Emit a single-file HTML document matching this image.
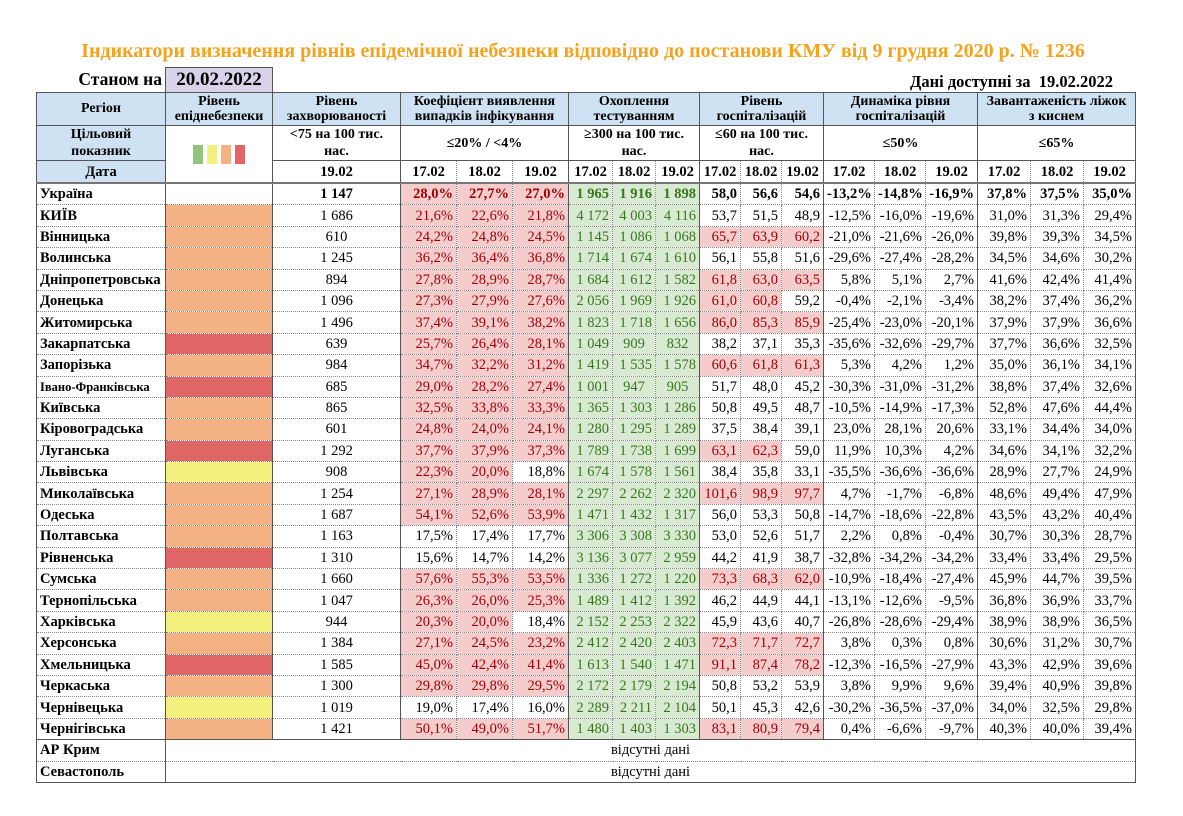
<!DOCTYPE html>
<html><head><meta charset="utf-8"><style>
body{margin:0;width:1183px;height:816px;background:#fff;font-family:"Liberation Serif","DejaVu Serif",serif;position:relative;overflow:hidden}
.title{position:absolute;left:0;width:1166px;top:40px;text-align:center;color:#f5a21d;font-weight:bold;font-size:20px}
.st{position:absolute;left:36px;width:126px;top:69px;text-align:right;font-weight:bold;font-size:17.5px}
.dt{position:absolute;left:165px;top:67px;width:106px;height:24px;background:#d9d2e9;border:1px solid #555;font-weight:bold;font-size:19px;text-align:center;line-height:24px}
.da{position:absolute;right:70px;top:72px;font-weight:bold;font-size:16.5px}
table{position:absolute;left:36px;top:92px;border-collapse:collapse;table-layout:fixed;width:1099px;font-size:14.5px}
td{padding:0 3px;border:1px dotted #888;white-space:nowrap;overflow:hidden;text-align:right;height:20.4px;line-height:20px}
.h td{background:#cfe2f3;font-weight:bold;text-align:center;line-height:15.5px;border:1px solid #555;height:32px;font-size:14px}
.h2 td{text-align:center;font-weight:bold;line-height:17px;height:34px;border:1px solid #555;font-size:14px}
.h3 td{text-align:center;font-weight:bold;border-bottom:2px solid #777;height:21px}
.b{background:#cfe2f3!important}
td.r{text-align:left;font-weight:bold;border-left:1px solid #555;border-right:1px solid #555}
td.m{text-align:center;border-right:1px solid #555}
td.L{border-right:1px solid #555}
td.O{background:#f4b183}td.R{background:#e06666}td.Y{background:#f3f07e}
td.p{background:#f4cccc;color:#9c0006}
td.g{background:#d9ead3;color:#38761d}
td.e{border-right:1px solid #555}
tr.u td{font-weight:bold}
tr.last td{border-bottom:1px solid #555}
td.c{text-align:center}
.sq{display:inline-block;width:10px;height:19px;margin:0 2px;vertical-align:middle}
</style></head><body>
<div class="title">Індикатори визначення рівнів епідемічної небезпеки відповідно до постанови КМУ від 9 грудня 2020 р. № 1236</div>
<div class="st">Станом на</div>
<div class="dt">20.02.2022</div>
<div class="da">Дані доступні за&nbsp; 19.02.2022</div>
<table>
<colgroup><col style="width:129px"><col style="width:107px"><col style="width:128px"><col style="width:56px"><col style="width:56px"><col style="width:56px"><col style="width:44px"><col style="width:43px"><col style="width:44px"><col style="width:41px"><col style="width:41px"><col style="width:42px"><col style="width:51px"><col style="width:51px"><col style="width:52px"><col style="width:53px"><col style="width:53px"><col style="width:52px"></colgroup>
<tr class="h"><td>Регіон</td><td>Рівень<br>епіднебезпеки</td><td>Рівень<br>захворюваності</td><td colspan="3">Коефіцієнт виявлення<br>випадків інфікування</td><td colspan="3">Охоплення<br>тестуванням</td><td colspan="3">Рівень<br>госпіталізацій</td><td colspan="3">Динаміка рівня<br>госпіталізацій</td><td colspan="3">Завантаженість ліжок<br>з киснем</td></tr>
<tr class="h2"><td class="b">Цільовий<br>показник</td><td rowspan="2" style="border-bottom:2px solid #777"><span class="sq" style="background:#93c47d"></span><span class="sq" style="background:#f3f07e"></span><span class="sq" style="background:#f4b183"></span><span class="sq" style="background:#e06666"></span></td><td>&lt;75 на 100 тис.<br>нас.</td><td colspan="3">≤20% / &lt;4%</td><td colspan="3">≥300 на 100 тис.<br>нас.</td><td colspan="3">≤60 на 100 тис.<br>нас.</td><td colspan="3">≤50%</td><td colspan="3">≤65%</td></tr>
<tr class="h3"><td class="b" style="border-left:1px solid #555">Дата</td><td class="m">19.02</td><td>17.02</td><td>18.02</td><td class="e">19.02</td><td>17.02</td><td>18.02</td><td class="e">19.02</td><td>17.02</td><td>18.02</td><td class="e">19.02</td><td>17.02</td><td>18.02</td><td class="e">19.02</td><td>17.02</td><td>18.02</td><td class="e">19.02</td></tr>
<tr class="u"><td class="r">Україна</td><td class="L"></td><td class="m">1 147</td><td class="p">28,0%</td><td class="p">27,7%</td><td class="p e">27,0%</td><td class="g">1 965</td><td class="g">1 916</td><td class="g e">1 898</td><td>58,0</td><td>56,6</td><td class="e">54,6</td><td>-13,2%</td><td>-14,8%</td><td class="e">-16,9%</td><td>37,8%</td><td>37,5%</td><td class="e">35,0%</td></tr>
<tr><td class="r">КИЇВ</td><td class="O L"></td><td class="m">1 686</td><td class="p">21,6%</td><td class="p">22,6%</td><td class="p e">21,8%</td><td class="g">4 172</td><td class="g">4 003</td><td class="g e">4 116</td><td>53,7</td><td>51,5</td><td class="e">48,9</td><td>-12,5%</td><td>-16,0%</td><td class="e">-19,6%</td><td>31,0%</td><td>31,3%</td><td class="e">29,4%</td></tr>
<tr><td class="r">Вінницька</td><td class="O L"></td><td class="m">610</td><td class="p">24,2%</td><td class="p">24,8%</td><td class="p e">24,5%</td><td class="g">1 145</td><td class="g">1 086</td><td class="g e">1 068</td><td class="p">65,7</td><td class="p">63,9</td><td class="p e">60,2</td><td>-21,0%</td><td>-21,6%</td><td class="e">-26,0%</td><td>39,8%</td><td>39,3%</td><td class="e">34,5%</td></tr>
<tr><td class="r">Волинська</td><td class="O L"></td><td class="m">1 245</td><td class="p">36,2%</td><td class="p">36,4%</td><td class="p e">36,8%</td><td class="g">1 714</td><td class="g">1 674</td><td class="g e">1 610</td><td>56,1</td><td>55,8</td><td class="e">51,6</td><td>-29,6%</td><td>-27,4%</td><td class="e">-28,2%</td><td>34,5%</td><td>34,6%</td><td class="e">30,2%</td></tr>
<tr><td class="r">Дніпропетровська</td><td class="O L"></td><td class="m">894</td><td class="p">27,8%</td><td class="p">28,9%</td><td class="p e">28,7%</td><td class="g">1 684</td><td class="g">1 612</td><td class="g e">1 582</td><td class="p">61,8</td><td class="p">63,0</td><td class="p e">63,5</td><td>5,8%</td><td>5,1%</td><td class="e">2,7%</td><td>41,6%</td><td>42,4%</td><td class="e">41,4%</td></tr>
<tr><td class="r">Донецька</td><td class="O L"></td><td class="m">1 096</td><td class="p">27,3%</td><td class="p">27,9%</td><td class="p e">27,6%</td><td class="g">2 056</td><td class="g">1 969</td><td class="g e">1 926</td><td class="p">61,0</td><td class="p">60,8</td><td class="e">59,2</td><td>-0,4%</td><td>-2,1%</td><td class="e">-3,4%</td><td>38,2%</td><td>37,4%</td><td class="e">36,2%</td></tr>
<tr><td class="r">Житомирська</td><td class="O L"></td><td class="m">1 496</td><td class="p">37,4%</td><td class="p">39,1%</td><td class="p e">38,2%</td><td class="g">1 823</td><td class="g">1 718</td><td class="g e">1 656</td><td class="p">86,0</td><td class="p">85,3</td><td class="p e">85,9</td><td>-25,4%</td><td>-23,0%</td><td class="e">-20,1%</td><td>37,9%</td><td>37,9%</td><td class="e">36,6%</td></tr>
<tr><td class="r">Закарпатська</td><td class="R L"></td><td class="m">639</td><td class="p">25,7%</td><td class="p">26,4%</td><td class="p e">28,1%</td><td class="g">1 049</td><td class="g c">909</td><td class="g e c">832</td><td>38,2</td><td>37,1</td><td class="e">35,3</td><td>-35,6%</td><td>-32,6%</td><td class="e">-29,7%</td><td>37,7%</td><td>36,6%</td><td class="e">32,5%</td></tr>
<tr><td class="r">Запорізька</td><td class="O L"></td><td class="m">984</td><td class="p">34,7%</td><td class="p">32,2%</td><td class="p e">31,2%</td><td class="g">1 419</td><td class="g">1 535</td><td class="g e">1 578</td><td class="p">60,6</td><td class="p">61,8</td><td class="p e">61,3</td><td>5,3%</td><td>4,2%</td><td class="e">1,2%</td><td>35,0%</td><td>36,1%</td><td class="e">34,1%</td></tr>
<tr><td class="r" style="font-size:12.5px">Івано-Франківська</td><td class="R L"></td><td class="m">685</td><td class="p">29,0%</td><td class="p">28,2%</td><td class="p e">27,4%</td><td class="g">1 001</td><td class="g c">947</td><td class="g e c">905</td><td>51,7</td><td>48,0</td><td class="e">45,2</td><td>-30,3%</td><td>-31,0%</td><td class="e">-31,2%</td><td>38,8%</td><td>37,4%</td><td class="e">32,6%</td></tr>
<tr><td class="r">Київська</td><td class="O L"></td><td class="m">865</td><td class="p">32,5%</td><td class="p">33,8%</td><td class="p e">33,3%</td><td class="g">1 365</td><td class="g">1 303</td><td class="g e">1 286</td><td>50,8</td><td>49,5</td><td class="e">48,7</td><td>-10,5%</td><td>-14,9%</td><td class="e">-17,3%</td><td>52,8%</td><td>47,6%</td><td class="e">44,4%</td></tr>
<tr><td class="r">Кіровоградська</td><td class="O L"></td><td class="m">601</td><td class="p">24,8%</td><td class="p">24,0%</td><td class="p e">24,1%</td><td class="g">1 280</td><td class="g">1 295</td><td class="g e">1 289</td><td>37,5</td><td>38,4</td><td class="e">39,1</td><td>23,0%</td><td>28,1%</td><td class="e">20,6%</td><td>33,1%</td><td>34,4%</td><td class="e">34,0%</td></tr>
<tr><td class="r">Луганська</td><td class="R L"></td><td class="m">1 292</td><td class="p">37,7%</td><td class="p">37,9%</td><td class="p e">37,3%</td><td class="g">1 789</td><td class="g">1 738</td><td class="g e">1 699</td><td class="p">63,1</td><td class="p">62,3</td><td class="e">59,0</td><td>11,9%</td><td>10,3%</td><td class="e">4,2%</td><td>34,6%</td><td>34,1%</td><td class="e">32,2%</td></tr>
<tr><td class="r">Львівська</td><td class="Y L"></td><td class="m">908</td><td class="p">22,3%</td><td class="p">20,0%</td><td class="e">18,8%</td><td class="g">1 674</td><td class="g">1 578</td><td class="g e">1 561</td><td>38,4</td><td>35,8</td><td class="e">33,1</td><td>-35,5%</td><td>-36,6%</td><td class="e">-36,6%</td><td>28,9%</td><td>27,7%</td><td class="e">24,9%</td></tr>
<tr><td class="r">Миколаївська</td><td class="O L"></td><td class="m">1 254</td><td class="p">27,1%</td><td class="p">28,9%</td><td class="p e">28,1%</td><td class="g">2 297</td><td class="g">2 262</td><td class="g e">2 320</td><td class="p">101,6</td><td class="p">98,9</td><td class="p e">97,7</td><td>4,7%</td><td>-1,7%</td><td class="e">-6,8%</td><td>48,6%</td><td>49,4%</td><td class="e">47,9%</td></tr>
<tr><td class="r">Одеська</td><td class="O L"></td><td class="m">1 687</td><td class="p">54,1%</td><td class="p">52,6%</td><td class="p e">53,9%</td><td class="g">1 471</td><td class="g">1 432</td><td class="g e">1 317</td><td>56,0</td><td>53,3</td><td class="e">50,8</td><td>-14,7%</td><td>-18,6%</td><td class="e">-22,8%</td><td>43,5%</td><td>43,2%</td><td class="e">40,4%</td></tr>
<tr><td class="r">Полтавська</td><td class="O L"></td><td class="m">1 163</td><td>17,5%</td><td>17,4%</td><td class="e">17,7%</td><td class="g">3 306</td><td class="g">3 308</td><td class="g e">3 330</td><td>53,0</td><td>52,6</td><td class="e">51,7</td><td>2,2%</td><td>0,8%</td><td class="e">-0,4%</td><td>30,7%</td><td>30,3%</td><td class="e">28,7%</td></tr>
<tr><td class="r">Рівненська</td><td class="R L"></td><td class="m">1 310</td><td>15,6%</td><td>14,7%</td><td class="e">14,2%</td><td class="g">3 136</td><td class="g">3 077</td><td class="g e">2 959</td><td>44,2</td><td>41,9</td><td class="e">38,7</td><td>-32,8%</td><td>-34,2%</td><td class="e">-34,2%</td><td>33,4%</td><td>33,4%</td><td class="e">29,5%</td></tr>
<tr><td class="r">Сумська</td><td class="O L"></td><td class="m">1 660</td><td class="p">57,6%</td><td class="p">55,3%</td><td class="p e">53,5%</td><td class="g">1 336</td><td class="g">1 272</td><td class="g e">1 220</td><td class="p">73,3</td><td class="p">68,3</td><td class="p e">62,0</td><td>-10,9%</td><td>-18,4%</td><td class="e">-27,4%</td><td>45,9%</td><td>44,7%</td><td class="e">39,5%</td></tr>
<tr><td class="r">Тернопільська</td><td class="O L"></td><td class="m">1 047</td><td class="p">26,3%</td><td class="p">26,0%</td><td class="p e">25,3%</td><td class="g">1 489</td><td class="g">1 412</td><td class="g e">1 392</td><td>46,2</td><td>44,9</td><td class="e">44,1</td><td>-13,1%</td><td>-12,6%</td><td class="e">-9,5%</td><td>36,8%</td><td>36,9%</td><td class="e">33,7%</td></tr>
<tr><td class="r">Харківська</td><td class="Y L"></td><td class="m">944</td><td class="p">20,3%</td><td class="p">20,0%</td><td class="e">18,4%</td><td class="g">2 152</td><td class="g">2 253</td><td class="g e">2 322</td><td>45,9</td><td>43,6</td><td class="e">40,7</td><td>-26,8%</td><td>-28,6%</td><td class="e">-29,4%</td><td>38,9%</td><td>38,9%</td><td class="e">36,5%</td></tr>
<tr><td class="r">Херсонська</td><td class="O L"></td><td class="m">1 384</td><td class="p">27,1%</td><td class="p">24,5%</td><td class="p e">23,2%</td><td class="g">2 412</td><td class="g">2 420</td><td class="g e">2 403</td><td class="p">72,3</td><td class="p">71,7</td><td class="p e">72,7</td><td>3,8%</td><td>0,3%</td><td class="e">0,8%</td><td>30,6%</td><td>31,2%</td><td class="e">30,7%</td></tr>
<tr><td class="r">Хмельницька</td><td class="R L"></td><td class="m">1 585</td><td class="p">45,0%</td><td class="p">42,4%</td><td class="p e">41,4%</td><td class="g">1 613</td><td class="g">1 540</td><td class="g e">1 471</td><td class="p">91,1</td><td class="p">87,4</td><td class="p e">78,2</td><td>-12,3%</td><td>-16,5%</td><td class="e">-27,9%</td><td>43,3%</td><td>42,9%</td><td class="e">39,6%</td></tr>
<tr><td class="r">Черкаська</td><td class="O L"></td><td class="m">1 300</td><td class="p">29,8%</td><td class="p">29,8%</td><td class="p e">29,5%</td><td class="g">2 172</td><td class="g">2 179</td><td class="g e">2 194</td><td>50,8</td><td>53,2</td><td class="e">53,9</td><td>3,8%</td><td>9,9%</td><td class="e">9,6%</td><td>39,4%</td><td>40,9%</td><td class="e">39,8%</td></tr>
<tr><td class="r">Чернівецька</td><td class="Y L"></td><td class="m">1 019</td><td>19,0%</td><td>17,4%</td><td class="e">16,0%</td><td class="g">2 289</td><td class="g">2 211</td><td class="g e">2 104</td><td>50,1</td><td>45,3</td><td class="e">42,6</td><td>-30,2%</td><td>-36,5%</td><td class="e">-37,0%</td><td>34,0%</td><td>32,5%</td><td class="e">29,8%</td></tr>
<tr><td class="r">Чернігівська</td><td class="O L"></td><td class="m">1 421</td><td class="p">50,1%</td><td class="p">49,0%</td><td class="p e">51,7%</td><td class="g">1 480</td><td class="g">1 403</td><td class="g e">1 303</td><td class="p">83,1</td><td class="p">80,9</td><td class="p e">79,4</td><td>0,4%</td><td>-6,6%</td><td class="e">-9,7%</td><td>40,3%</td><td>40,0%</td><td class="e">39,4%</td></tr>
<tr><td class="r" style="border-top:1px solid #555">АР Крим</td><td colspan="17" class="c e" style="border-top:1px solid #555">відсутні дані</td></tr>
<tr class="last"><td class="r">Севастополь</td><td colspan="17" class="c e">відсутні дані</td></tr>
</table>
</body></html>
